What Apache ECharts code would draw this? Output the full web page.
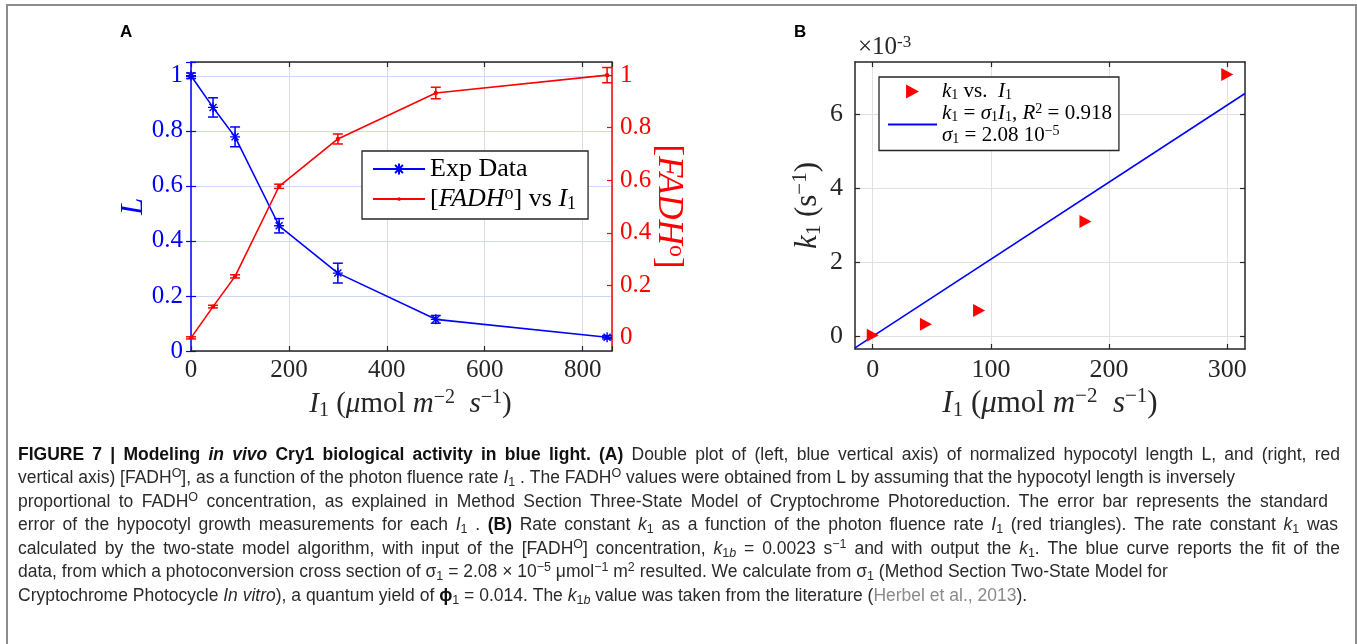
<!DOCTYPE html>
<html>
<head>
<meta charset="utf-8">
<script src="https://cdn.jsdelivr.net/npm/echarts@6.0.0/dist/echarts.min.js"></script>
<style>
html,body{margin:0;padding:0;background:#fff;}
#chart{width:1357px;height:644px;}
</style>
</head>
<body>
<div id="chart"></div>
<script>
// ---------------- DATA ----------------
// Panel A
const fluenceA = [0, 45, 90, 180, 300, 500, 850];
const lengthL = [1.0, 0.885, 0.778, 0.455, 0.283, 0.115, 0.05];
const lengthErr = [0.01, 0.035, 0.036, 0.026, 0.036, 0.014, 0.006];
const fadh = [0, 0.119, 0.234, 0.577, 0.757, 0.932, 1.0];
const fadhErr = [0.004, 0.005, 0.006, 0.008, 0.019, 0.022, 0.029];
const xTicksA = [0, 200, 400, 600, 800];
const yTicksA = [0, 0.2, 0.4, 0.6, 0.8, 1];
// Panel B (k1 in units of 1e-3 s^-1)
const fluenceB = [0, 45, 90, 180, 300];
const rateK1 = [0.03, 0.33, 0.70, 3.10, 7.06];
const fitI = [-15, 315];
const fitK1 = [-0.31, 6.55];
const xTicksB = [0, 100, 200, 300];
const yTicksB = [0, 2, 4, 6];

// ---------------- HELPERS ----------------
const SERIF = "'Liberation Serif','DejaVu Serif',serif";
const SANS = "'Liberation Sans',Arial,sans-serif";
function rt(segs){ return segs.map(s => '{' + s[0] + '|' + s[1] + '}').join(''); }
function mathRich(size, color, lh){
  const sub = Math.round(size*0.68);
  const L = lh || (size + 4);
  return {
    n: {fontFamily: SERIF, fontSize: size, fontStyle:'normal', color: color, lineHeight: L},
    i: {fontFamily: SERIF, fontSize: size, fontStyle:'italic', color: color, lineHeight: L},
    s: {fontFamily: SERIF, fontSize: sub, fontStyle:'normal', color: color, lineHeight: Math.round(sub*0.9), verticalAlign:'bottom'},
    sp: {fontFamily: SERIF, fontSize: sub, fontStyle:'normal', color: color, lineHeight: Math.round(sub*0.9), verticalAlign:'top'}
  };
}
function pairs(xs, ys){ return xs.map((x,i)=>[x, ys[i]]); }
function errData(xs, ys, es){ return xs.map((x,i)=>[x, ys[i]-es[i], ys[i]+es[i]]); }
function errRender(color){
  return function(params, api){
    const x = api.value(0);
    const lo = api.coord([x, api.value(1)]);
    const hi = api.coord([x, api.value(2)]);
    const w = 5;
    const st = {stroke: color, lineWidth: 1.5};
    return {type:'group', children:[
      {type:'line', shape:{x1:lo[0], y1:lo[1], x2:hi[0], y2:hi[1]}, style:st},
      {type:'line', shape:{x1:lo[0]-w, y1:lo[1], x2:lo[0]+w, y2:lo[1]}, style:st},
      {type:'line', shape:{x1:hi[0]-w, y1:hi[1], x2:hi[0]+w, y2:hi[1]}, style:st}
    ]};
  };
}

const DARK = '#262626';
const BLUE = '#0000ff';
const RED = '#ff0000';
const tickFontA = {fontFamily: SERIF, fontSize: 25};
const tickFontB = {fontFamily: SERIF, fontSize: 26};

// ---------------- CAPTION ----------------
const capSize = 17.5;
const capColor = '#2a2a2a';
const capRich = {
  n: {fontFamily: SANS, fontSize: capSize, fontWeight:'normal', fontStyle:'normal', fill: capColor, lineHeight: 22},
  b: {fontFamily: SANS, fontSize: capSize, fontWeight:'bold', fontStyle:'normal', fill: '#111', lineHeight: 22},
  bi: {fontFamily: SANS, fontSize: capSize, fontWeight:'bold', fontStyle:'italic', fill: '#111', lineHeight: 22},
  i: {fontFamily: SANS, fontSize: capSize, fontWeight:'normal', fontStyle:'italic', fill: capColor, lineHeight: 22},
  sub: {fontFamily: SANS, fontSize: 12.5, fontWeight:'normal', fontStyle:'normal', fill: capColor, lineHeight: 12, verticalAlign:'bottom'},
  isub: {fontFamily: SANS, fontSize: 12.5, fontWeight:'normal', fontStyle:'italic', fill: capColor, lineHeight: 12, verticalAlign:'bottom'},
  sup: {fontFamily: SANS, fontSize: 12.5, fontWeight:'normal', fontStyle:'normal', fill: capColor, lineHeight: 12, verticalAlign:'top'},
  g: {fontFamily: SANS, fontSize: capSize, fontWeight:'normal', fontStyle:'normal', fill: '#8a8a8a', lineHeight: 22}
};
const captionLines = [
  [['b','FIGURE 7 | Modeling '],['bi','in vivo'],['b',' Cry1 biological activity in blue light. (A)'],['n',' Double plot of (left, blue vertical axis) of normalized hypocotyl length L, and (right, red']],
  [['n','vertical axis) [FADH'],['sup','O'],['n','], as a function of the photon fluence rate '],['i','I'],['sub','1'],['n',' . The FADH'],['sup','O'],['n',' values were obtained from L by assuming that the hypocotyl length is inversely']],
  [['n','proportional to FADH'],['sup','O'],['n',' concentration, as explained in Method Section Three-State Model of Cryptochrome Photoreduction. The error bar represents the standard']],
  [['n','error of the hypocotyl growth measurements for each '],['i','I'],['sub','1'],['n',' . '],['b','(B)'],['n',' Rate constant '],['i','k'],['sub','1'],['n',' as a function of the photon fluence rate '],['i','I'],['sub','1'],['n',' (red triangles). The rate constant '],['i','k'],['sub','1'],['n',' was']],
  [['n','calculated by the two-state model algorithm, with input of the [FADH'],['sup','O'],['n','] concentration, '],['i','k'],['sub','1'],['isub','b'],['n',' = 0.0023 s'],['sup','\u22121'],['n',' and with output the '],['i','k'],['sub','1'],['n','. The blue curve reports the fit of the']],
  [['n','data, from which a photoconversion cross section of \u03c3'],['sub','1'],['n',' = 2.08 \u00d7 10'],['sup','\u22125'],['n',' \u03bcmol'],['sup','\u22121'],['n',' m'],['sup','2'],['n',' resulted. We calculate from \u03c3'],['sub','1'],['n',' (Method Section Two-State Model for']],
  [['n','Cryptochrome Photocycle '],['i','In vitro'],['n','), a quantum yield of '],['b','\u03d5'],['sub','1'],['n',' = 0.014. The '],['i','k'],['sub','1'],['isub','b'],['n',' value was taken from the literature ('],['g','Herbel et al., 2013'],['n',').']]
];
const captionY = [455, 478.5, 502, 525.5, 549, 572.5, 596];
const captionRight = [1340, null, 1328, 1338, 1340, null, null]; // justified line ends
const captionLeft = 18;

const measureCtx = document.createElement('canvas').getContext('2d');
function textW(styleName, txt){
  const r = capRich[styleName];
  measureCtx.font = r.fontStyle + ' ' + r.fontWeight + ' ' + r.fontSize + 'px ' + r.fontFamily;
  return measureCtx.measureText(txt).width;
}
function buildCaptionLine(segs, right){
  if (!right) return {text: rt(segs), rich: capRich};
  let wordsW = 0, gaps = 0;
  segs.forEach(([s, t]) => {
    if (s === 'sub' || s === 'sup' || s === 'isub') { wordsW += textW(s, t); return; }
    t.split(' ').forEach((p, k) => { if (k > 0) gaps++; if (p) wordsW += textW(s, p); });
  });
  const gapW = Math.max(textW('n',' '), (right - captionLeft - wordsW) / Math.max(gaps,1));
  const rich = Object.assign({}, capRich, {gap: Object.assign({}, capRich.n, {width: gapW})});
  let out = '';
  segs.forEach(([s, t]) => {
    if (s === 'sub' || s === 'sup' || s === 'isub') { out += '{' + s + '|' + t + '}'; return; }
    t.split(' ').forEach((p, k) => { if (k > 0) out += '{gap| }'; if (p) out += '{' + s + '|' + p + '}'; });
  });
  return {text: out, rich: rich};
}

const graphics = [
  {type:'rect', shape:{x:7, y:5, width:1349, height:660}, style:{fill:'none', stroke:'#8c8c8c', lineWidth:2}, silent:true},
  {type:'text', x:120, y:24, style:{text:'A', font:"bold 17px 'Liberation Sans',Arial,sans-serif", fill:'#000'}},
  {type:'text', x:794, y:24, style:{text:'B', font:"bold 17px 'Liberation Sans',Arial,sans-serif", fill:'#000'}},
  {type:'text', x:858, y:47, style:{
    text: rt([['n','\u00d710'],['sp','-3']]),
    verticalAlign:'middle',
    rich:{
      n:{fontFamily:SERIF, fontSize:25, fontStyle:'normal', fontWeight:'normal', fill:DARK, lineHeight:26},
      sp:{fontFamily:SERIF, fontSize:17, fontStyle:'normal', fontWeight:'normal', fill:DARK, lineHeight:15, verticalAlign:'top'}
    }}}
];
captionLines.forEach((ln, k) => {
  const built = buildCaptionLine(ln, captionRight[k]);
  graphics.push({type:'text', x:captionLeft, y:captionY[k], style:{text: built.text, rich: built.rich, verticalAlign:'middle', align:'left',
    font: capSize + "px 'Liberation Sans',Arial,sans-serif", fill: capColor}});
});

// ---------------- LABEL TEXTS ----------------
const xNameRich = rt([['i','I'],['s','1'],['n',' ('],['i','\u03bc'],['n','mol '],['i','m'],['sp','\u22122'],['n','  '],['i','s'],['sp','\u22121'],['n',')']]);
const fadhName = rt([['n','['],['i','FADH'],['sp','o'],['n',']']]);
const k1Name = rt([['i','k'],['s','1'],['n',' (s'],['sp','\u22121'],['n',')']]);
const legendNames = {
  'Exp Data': rt([['n','Exp Data']]),
  'FADH vs I1': rt([['n','['],['i','FADH'],['sp','o'],['n','] vs '],['i','I'],['s','1']]),
  'k1 vs I1': rt([['i','k'],['s','1'],['n',' vs.  '],['i','I'],['s','1']]),
  'fit': rt([['i','k'],['s','1'],['n',' = '],['i','\u03c3'],['s','1'],['i','I'],['s','1'],['n',', '],['i','R'],['sp','2'],['n',' = 0.918']]) + '\n' +
         rt([['i','\u03c3'],['s','1'],['n',' = 2.08 10'],['sp','\u22125']])
};

function baseAxis(color, font){
  return {
    axisLine:{show:true, onZero:false, lineStyle:{color:color, width:1.5}},
    axisTick:{show:true, inside:true, length:5, lineStyle:{color:color, width:1.2}},
    axisLabel:{color:color, ...(font || tickFontA)},
    splitLine:{show:false}
  };
}

const option = {
  animation:false,
  backgroundColor:'#fff',
  graphic: graphics,
  grid:[
    {left:191, top:62, width:421, height:289},
    {left:855, top:62, width:390, height:287}
  ],
  legend:[
    {
      data:['Exp Data','FADH vs I1'],
      left:362, top:151, orient:'vertical',
      padding:[5,12,6,10], itemGap:3, itemWidth:52, itemHeight:14,
      borderColor:'#262626', borderWidth:1.3, backgroundColor:'#fff',
      formatter: n => legendNames[n],
      textStyle:{fontFamily:SERIF, fontSize:26, color:'#000', rich: mathRich(26,'#000',28)}
    },
    {
      data:['k1 vs I1','fit'],
      left:879, top:77, orient:'vertical',
      padding:[4,7,4,8], itemGap:0, itemWidth:49, itemHeight:14,
      borderColor:'#262626', borderWidth:1.3, backgroundColor:'#fff',
      formatter: n => legendNames[n],
      textStyle:{fontFamily:SERIF, fontSize:21, color:'#000', rich: mathRich(21,'#000',22)}
    }
  ],
  xAxis:[
    Object.assign(baseAxis(DARK), {
      type:'value', gridIndex:0, position:'bottom', min:0, max:860, interval:200,
      axisLabel:{color:DARK, ...tickFontA, margin:7, formatter: v => (v % 200 === 0 ? String(v) : '')},
      splitLine:{show:true, lineStyle:{color:'#dcdcdc', width:1}},
      name: xNameRich, nameLocation:'middle', nameGap:37,
      nameTextStyle:{padding:[0,0,0,18], rich: mathRich(29, DARK, 33)}
    }),
    Object.assign(baseAxis(DARK), {
      type:'value', gridIndex:0, position:'top', min:0, max:860, interval:200,
      axisLabel:{show:false}
    }),
    Object.assign(baseAxis(DARK, tickFontB), {
      type:'value', gridIndex:1, position:'bottom', min:-15, max:315,
      axisTick:{show:true, inside:true, length:5, customValues:xTicksB, lineStyle:{color:DARK, width:1.2}},
      axisLabel:{color:DARK, ...tickFontB, margin:8, customValues:xTicksB},
      splitLine:{show:true, lineStyle:{color:'#e0e0e0', width:1}},
      name: xNameRich, nameLocation:'middle', nameGap:37,
      nameTextStyle:{rich: mathRich(31, DARK, 35)}
    }),
    Object.assign(baseAxis(DARK), {
      type:'value', gridIndex:1, position:'top', min:-15, max:315,
      axisTick:{show:true, inside:true, length:5, customValues:xTicksB, lineStyle:{color:DARK, width:1.2}},
      axisLabel:{show:false}
    })
  ],
  yAxis:[
    Object.assign(baseAxis(BLUE), {
      type:'value', gridIndex:0, position:'left', min:0, max:1.05, interval:0.2,
      axisLabel:{color:BLUE, ...tickFontA, margin:8, formatter: v => (v > 1.0001 ? '' : String(+v.toFixed(1)))},
      splitLine:{show:true, lineStyle:{color:'#cfd6fb', width:1}},
      name: rt([['i','L']]), nameLocation:'middle', nameGap:40, nameRotate:90, nameMoveOverlap:false,
      nameTextStyle:{rich: mathRich(31, BLUE)}
    }),
    Object.assign(baseAxis(RED), {
      type:'value', gridIndex:0, position:'right', min:-0.05, max:1.05,
      axisTick:{show:true, inside:true, length:5, customValues:yTicksA, lineStyle:{color:RED, width:1.2}},
      axisLabel:{color:RED, ...tickFontA, margin:8, customValues:yTicksA, formatter: v => String(+v.toFixed(1))},
      name: fadhName, nameLocation:'middle', nameGap:37, nameRotate:-90, nameMoveOverlap:false,
      nameTextStyle:{rich: mathRich(35, RED)}
    }),
    {
      type:'value', gridIndex:0, position:'right', min:0, max:1.05, interval:0.2,
      axisLine:{show:false}, axisLabel:{show:false}, splitLine:{show:false},
      axisTick:{show:true, inside:true, length:5, lineStyle:{color:BLUE, width:1.2}}
    },
    Object.assign(baseAxis(DARK, tickFontB), {
      type:'value', gridIndex:1, position:'left', min:-0.34, max:7.4,
      axisTick:{show:true, inside:true, length:5, customValues:yTicksB, lineStyle:{color:DARK, width:1.2}},
      axisLabel:{color:DARK, ...tickFontB, margin:12, customValues:yTicksB},
      splitLine:{show:true, lineStyle:{color:'#e0e0e0', width:1}},
      name: k1Name, nameLocation:'middle', nameGap:30, nameRotate:90,
      nameTextStyle:{rich: mathRich(31, DARK)}
    }),
    Object.assign(baseAxis(DARK), {
      type:'value', gridIndex:1, position:'right', min:-0.34, max:7.4,
      axisTick:{show:true, inside:true, length:5, customValues:yTicksB, lineStyle:{color:DARK, width:1.2}},
      axisLabel:{show:false}
    })
  ],
  series:[
    {
      name:'Exp Data', type:'line', xAxisIndex:0, yAxisIndex:0,
      data: pairs(fluenceA, lengthL),
      symbol:'path://M5,0L5,10M0,5L10,5M1.5,1.5L8.5,8.5M8.5,1.5L1.5,8.5', symbolSize:10,
      itemStyle:{color:BLUE, borderColor:BLUE, borderWidth:1.4},
      lineStyle:{color:BLUE, width:1.6}, z:5
    },
    {
      name:'errL', type:'custom', xAxisIndex:0, yAxisIndex:0,
      data: errData(fluenceA, lengthL, lengthErr), renderItem: errRender(BLUE), z:4
    },
    {
      name:'FADH vs I1', type:'line', xAxisIndex:0, yAxisIndex:1,
      data: pairs(fluenceA, fadh),
      symbol:'path://M0,0M12,12M4,6A2,2,0,1,1,8,6A2,2,0,1,1,4,6Z', symbolSize:13,
      itemStyle:{color:RED}, lineStyle:{color:RED, width:1.6}, z:6
    },
    {
      name:'errF', type:'custom', xAxisIndex:0, yAxisIndex:1,
      data: errData(fluenceA, fadh, fadhErr), renderItem: errRender(RED), z:4
    },
    {
      name:'k1 vs I1', type:'scatter', xAxisIndex:2, yAxisIndex:3,
      data: pairs(fluenceB, rateK1),
      symbol:'path://M0,0L11,6L0,12Z', symbolSize:[12,13],
      itemStyle:{color:RED, opacity:1}, z:6
    },
    {
      name:'fit', type:'line', xAxisIndex:2, yAxisIndex:3,
      data: pairs(fitI, fitK1), symbol:'none',
      lineStyle:{color:BLUE, width:1.6}, itemStyle:{color:'rgba(0,0,0,0)'}, z:5
    }
  ]
};

const chart = echarts.init(document.getElementById('chart'), null, {renderer:'canvas'});
chart.setOption(option);
</script>
</body>
</html>
